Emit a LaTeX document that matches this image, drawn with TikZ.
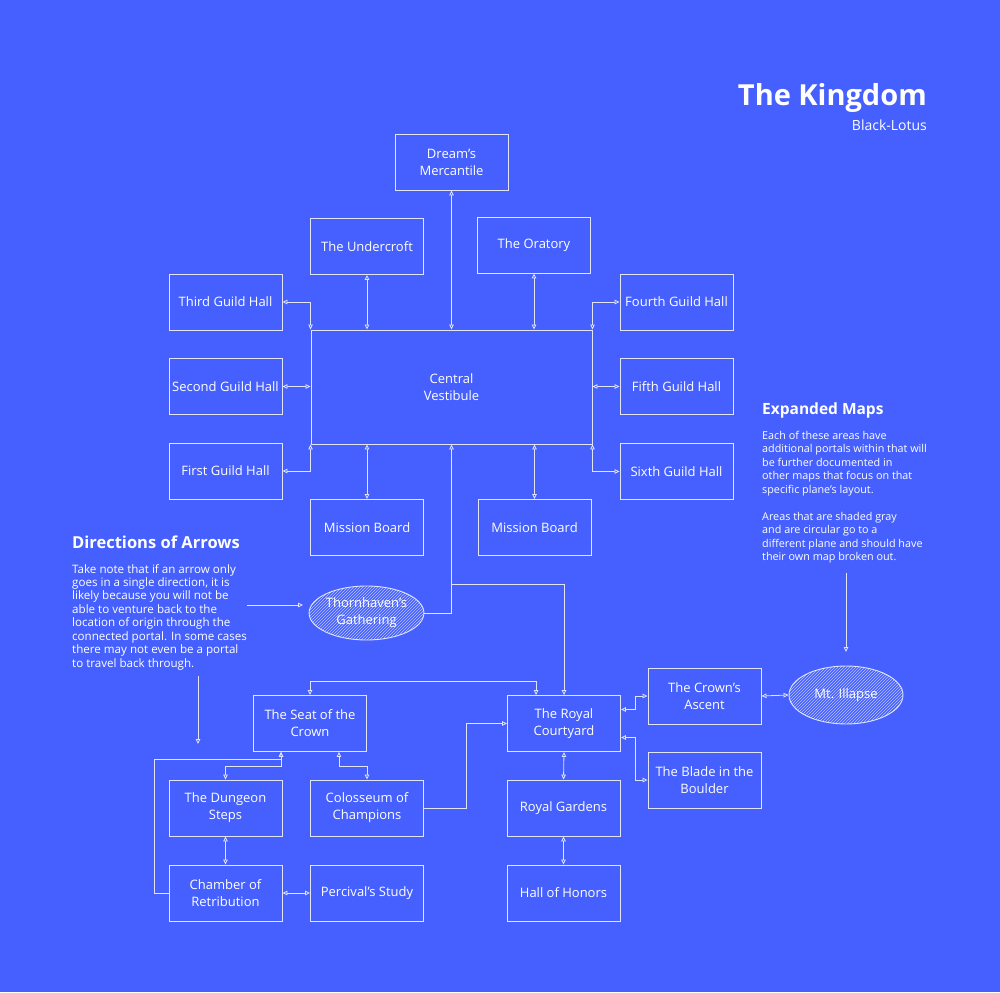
\documentclass[tikz,border=0pt]{standalone}
\usepackage{fontspec}
\setmainfont{Open Sans}
\usetikzlibrary{arrows.meta,shapes.geometric,patterns,calc}
\definecolor{bg}{HTML}{4560FF}
\definecolor{ln}{RGB}{225,229,250}
\begin{document}
\begin{tikzpicture}[x=1pt,y=-1pt,
  box/.style={draw=ln, line width=0.9pt, minimum width=113pt, minimum height=56pt, inner sep=1pt, align=center, text=white, font=\fontsize{13}{17}\selectfont},
  portal/.style={ellipse, draw=ln, line width=0.9pt, minimum width=113pt, minimum height=54pt, inner sep=0pt, align=center, text=white, font=\fontsize{13}{17}\selectfont, pattern=north east lines, pattern color=ln!75!bg},
  conn/.style={draw=ln, line width=0.8pt},
  tipA/.tip={Triangle[open,length=5pt,width=4.5pt]},
  bi/.style={conn, tipA-tipA},
  uni/.style={conn, -tipA},
  head/.style={text=white, inner sep=0pt, font=\fontsize{15.5}{18}\selectfont\bfseries},
  body/.style={text=white, inner sep=0pt, align=left, font=\fontsize{10.8}{13.45}\selectfont}
]
\fill[bg] (0,0) rectangle (1000,992);
\useasboundingbox (0,0) rectangle (1000,992);

% title
\node[anchor=base east, text=white, inner sep=0pt, font=\fontsize{29}{34}\selectfont\bfseries] (title) at (927,106) {The Kingdom};
\node[anchor=base east, text=white, inner sep=0pt, font=\fontsize{14}{16}\selectfont] (author) at (927,131) {Black-Lotus};

% boxes
\node[box] (dream) at (451.5,162) {Dream's\\Mercantile};
\node[box] (under) at (367,246.5) {The Undercroft};
\node[box] (orat) at (534,245) {The Oratory};
\node[box] (third) at (225.5,302) {Third Guild Hall};
\node[box] (fourth) at (676.5,302) {Fourth Guild Hall};
\node[box, minimum width=281pt, minimum height=114pt] (cv) at (451.5,387) {Central\\Vestibule};
\node[box] (second) at (225.5,386.5) {Second Guild Hall};
\node[box] (fifth) at (676.5,386.5) {Fifth Guild Hall};
\node[box] (first) at (225.5,471) {First Guild Hall};
\node[box] (sixth) at (676.5,471.5) {Sixth Guild Hall};
\node[box] (mb1) at (367,527.5) {Mission Board};
\node[box] (mb2) at (534.5,527.5) {Mission Board};
\node[portal] (thorn) at (366.5,613) {Thornhaven's\\Gathering};
\node[box] (seat) at (310,723.5) {The Seat of the\\Crown};
\node[box] (dungeon) at (225.5,808) {The Dungeon\\Steps};
\node[box] (colo) at (367,808) {Colosseum of\\Champions};
\node[box] (chamber) at (225.5,893) {Chamber of\\Retribution};
\node[box] (perc) at (367,893) {Percival's Study};
\node[box] (rc) at (564,723.5) {The Royal\\Courtyard};
\node[box] (ascent) at (704.5,696) {The Crown's\\Ascent};
\node[box] (blade) at (704.5,780) {The Blade in the\\Boulder};
\node[box] (gardens) at (563.5,808) {Royal Gardens};
\node[box] (hall) at (563.5,893) {Hall of Honors};
\node[portal, minimum width=114pt, minimum height=58pt] (mt) at (846,695) {Mt. Illapse};

% connectors around central vestibule
\draw[bi] (third.east) -| (cv.north west);
\draw[bi] (under.south) -- (under.south |- cv.north);
\draw[bi] (dream.south) -- (dream.south |- cv.north);
\draw[bi] (orat.south) -- (orat.south |- cv.north);
\draw[bi] (cv.north east) |- (fourth.west);
\draw[bi] (second.east) -- (second.east -| cv.west);
\draw[bi] (fifth.west -| cv.east) -- (fifth.west);
\draw[bi] (cv.south west) |- (first.east);
\draw[bi] (mb1.north |- cv.south) -- (mb1.north);
\draw[bi] (mb2.north |- cv.south) -- (mb2.north);
\draw[bi] (cv.south east) |- (sixth.west);
\draw[uni] (thorn.east) -| (cv.south);
\coordinate (split) at (451.5,584);
\draw[uni] (split) -| (rc.north);

% lower left cluster
\draw[bi] (seat.north) -- ++(0,-14) -| ($(rc.north west)+(29,0)$);
\draw[bi] ($(seat.south west)+(28,0)$) -- ++(0,14) -| (dungeon.north);
\draw[bi] ($(seat.south east)+(-28,0)$) -- ++(0,14) -| (colo.north);
\draw[uni] (chamber.west) -- ++(-14,0) |- ($(seat.south west)+(28,7)$) -- ($(seat.south west)+(28,0)$);
\draw[bi] (dungeon.south) -- (chamber.north);
\draw[bi] (chamber.east) -- (perc.west);
\draw[uni] (colo.east) -- ++(42,0) |- (rc.west);

% lower right cluster
\draw[bi] ($(rc.east)+(0,-14)$) -- ++(14,0) |- (ascent.west);
\draw[bi] ($(rc.east)+(0,14)$) -- ++(14,0) |- (blade.west);
\draw[bi] (ascent.east) -- (mt.west);
\draw[bi] (rc.south) -- (gardens.north);
\draw[bi] (gardens.south) -- (hall.north);

% legend: directions of arrows
\node[head, anchor=base west, font=\fontsize{16.5}{19}\selectfont\bfseries] (dirh) at (72,548) {Directions of Arrows};
\node[body, anchor=north west, font=\fontsize{11.6}{13.45}\selectfont] (dirb) at (72,564) {Take note that if an arrow only\\goes in a single direction, it is\\likely because you will not be\\able to venture back to the\\location of origin through the\\connected portal. In some cases\\there may not even be a portal\\to travel back through.};
\coordinate (la1) at (247,605);
\coordinate (la2) at (303,605);
\draw[uni] (la1) -- (la2);
\coordinate (lb1) at (198,676);
\coordinate (lb2) at (198,744);
\draw[uni] (lb1) -- (lb2);

% legend: expanded maps
\node[head, anchor=base west] (exph) at (762,414) {Expanded Maps};
\node[body, anchor=north west] (expb) at (762,431) {Each of these areas have\\additional portals within that will\\be further documented in\\other maps that focus on that\\specific plane's layout.\\[13.45pt]Areas that are shaded gray\\and are circular go to a\\different plane and should have\\their own map broken out.};
\coordinate (lc1) at (846,573);
\coordinate (lc2) at (846,652);
\draw[uni] (lc1) -- (lc2);
\end{tikzpicture}
\end{document}
